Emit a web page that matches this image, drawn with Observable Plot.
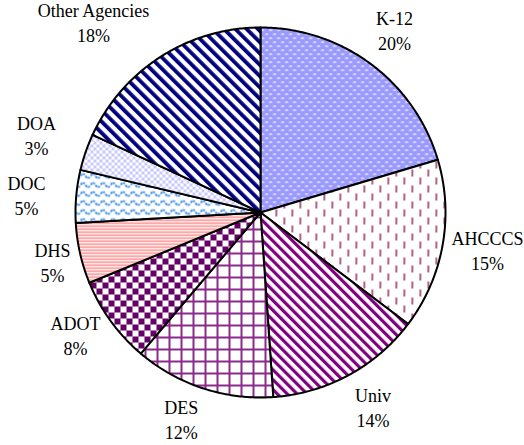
<!DOCTYPE html>
<html><head><meta charset="utf-8">
<script src="https://cdn.jsdelivr.net/npm/d3@7"></script>
<script src="https://cdn.jsdelivr.net/npm/@observablehq/plot@0.6"></script>
<style>body{margin:0;background:#fff}</style>
</head><body><div id="chart"></div>
<script>
// Data
const agencies = ["K-12", "AHCCCS", "Univ", "DES", "ADOT", "DHS", "DOC", "DOA", "Other Agencies"];
const shares = [20.4, 14.9, 13.6, 12.3, 7.6, 5.3, 4.6, 3.2, 18.1];
const pctLabels = ["20%", "15%", "14%", "12%", "8%", "5%", "5%", "3%", "18%"];
const patternIds = ["pK", "pA", "pU", "pD", "pO", "pH", "pC", "pB", "pN"];
// label anchor positions in pie-radius units (layout)
const labelX = [0.724, 1.227, 0.608, -0.428, -1.0, -1.124, -1.265, -1.211, -0.903];
const labelY = [0.99, -0.20, -1.048, -1.115, -0.66, -0.265, 0.097, 0.421, 1.032];

const W = 524, H = 445, CX = 260, CY = 212, R = 185;

const arcs = d3.pie().sort(null).value(d => d)(shares);
const pts = [];
arcs.forEach((a, i) => {
  const fill = `url(#${patternIds[i]})`;
  const n = Math.max(2, Math.ceil((a.endAngle - a.startAngle) / 0.01));
  pts.push({name: agencies[i], x: 0, y: 0, fill});
  for (let k = 0; k <= n; k++) {
    const t = a.startAngle + (a.endAngle - a.startAngle) * k / n;
    pts.push({name: agencies[i], x: Math.sin(t), y: Math.cos(t), fill});
  }
});
const labels = agencies.map((name, i) => ({text: name + "\n" + pctLabels[i], x: labelX[i], y: labelY[i]}));

const chart = Plot.plot({
  width: W, height: H, margin: 0,
  style: {fontFamily: "Liberation Serif", background: "#fff"},
  x: {domain: [-CX / R, (W - CX) / R], axis: null},
  y: {domain: [-(H - CY) / R, CY / R], axis: null},
  color: {type: "identity"},
  marks: [
    Plot.line(pts, {x: "x", y: "y", z: "name", fill: "fill", stroke: "black", strokeWidth: 2, curve: "linear-closed", strokeLinejoin: "round"}),
    Plot.text(labels, {x: "x", y: "y", text: "text", fontSize: 18, fontFamily: "Liberation Serif", lineHeight: 25 / 18, fill: "black"})
  ]
});

chart.insertAdjacentHTML("afterbegin", `<defs>
<pattern id="pK" patternUnits="userSpaceOnUse" width="8" height="8">
 <rect width="8" height="8" fill="#9999ff"/>
 <rect x="0.5" y="1" width="3.2" height="1.3" rx="0.6" fill="#fff"/>
 <rect x="4.5" y="5" width="3.2" height="1.3" rx="0.6" fill="#fff"/>
</pattern>
<pattern id="pA" patternUnits="userSpaceOnUse" width="16" height="16">
 <rect width="16" height="16" fill="#fff"/>
 <rect x="3" y="1" width="1.6" height="7" fill="#a03a68"/>
 <rect x="11" y="9" width="1.6" height="7" fill="#a03a68"/>
</pattern>
<pattern id="pU" patternUnits="userSpaceOnUse" width="7" height="7" patternTransform="rotate(-45)">
 <rect width="7" height="7" fill="#fff"/><rect width="3.2" height="7" fill="#800080"/>
</pattern>
<pattern id="pD" patternUnits="userSpaceOnUse" width="12" height="12">
 <rect width="12" height="12" fill="#fff"/>
 <rect width="2" height="12" fill="#8a2a8a"/><rect width="12" height="2" fill="#8a2a8a"/>
</pattern>
<pattern id="pO" patternUnits="userSpaceOnUse" width="12" height="12">
 <rect width="12" height="12" fill="#fff"/>
 <rect width="6" height="6" fill="#660066"/><rect x="6" y="6" width="6" height="6" fill="#660066"/>
</pattern>
<pattern id="pH" patternUnits="userSpaceOnUse" width="4" height="3">
 <rect width="4" height="3" fill="#fff"/><rect width="4" height="1.4" fill="#ff7f7f"/>
</pattern>
<pattern id="pC" patternUnits="userSpaceOnUse" width="10" height="9">
 <rect width="10" height="9" fill="#fff"/>
 <path d="M0,4.5 Q2.5,0.5 5,4.5 T10,4.5" fill="none" stroke="#2f86e0" stroke-width="2" stroke-dasharray="2.2 1"/>
</pattern>
<pattern id="pB" patternUnits="userSpaceOnUse" width="6" height="6">
 <rect width="6" height="6" fill="#fff"/>
 <rect width="3" height="3" fill="#c8c8ff"/><rect x="3" y="3" width="3" height="3" fill="#c8c8ff"/>
</pattern>
<pattern id="pN" patternUnits="userSpaceOnUse" width="8" height="8" patternTransform="rotate(-45)">
 <rect width="8" height="8" fill="#fff"/><rect width="3.8" height="8" fill="#000080"/>
</pattern>
</defs>`);

document.getElementById("chart").appendChild(chart);
</script>
</body></html>
